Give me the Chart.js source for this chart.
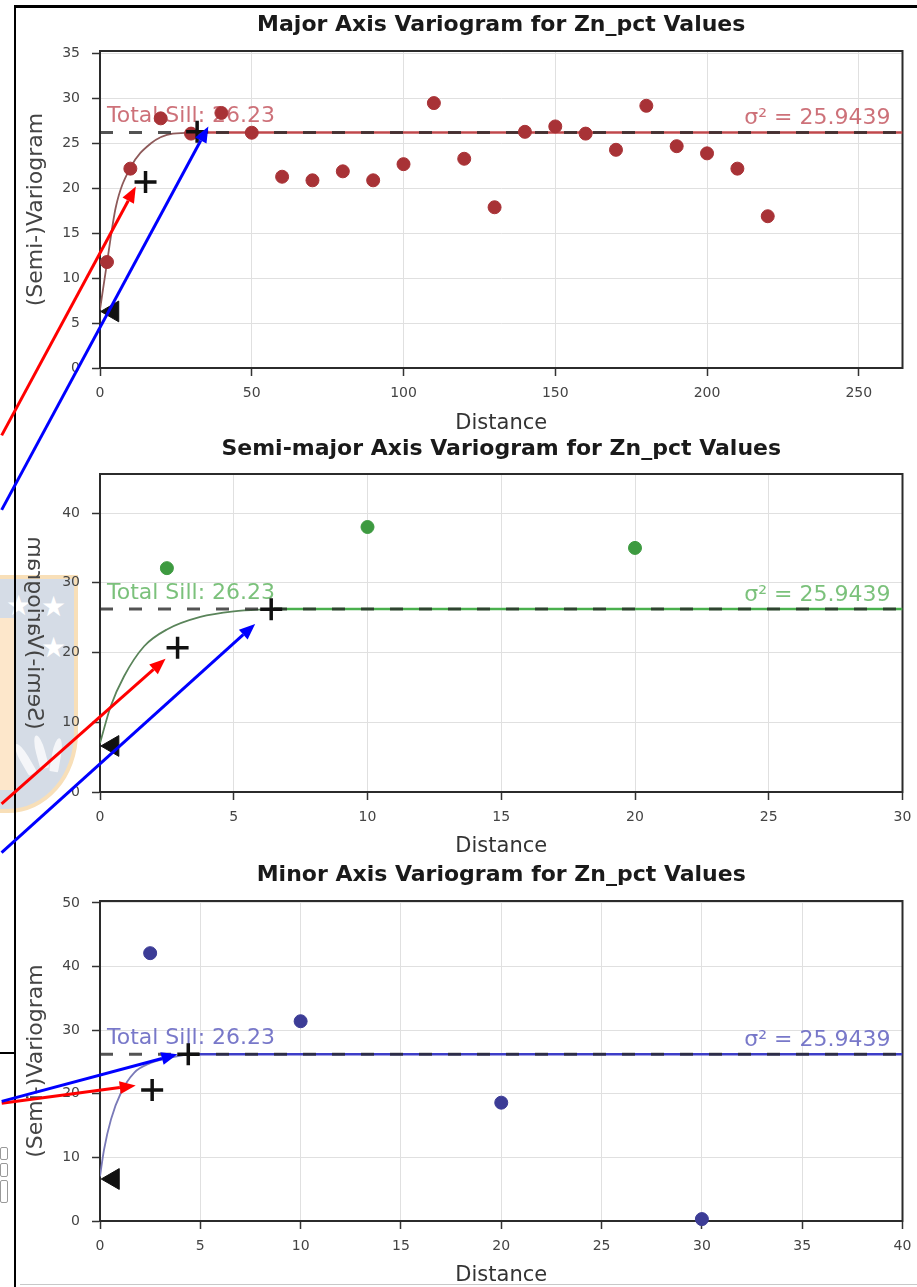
<!DOCTYPE html>
<html lang="en">
<head>
<meta charset="UTF-8">
<title>Zn_pct Variograms</title>
<script src="https://cdn.jsdelivr.net/npm/chart.js"></script>
<style>
  html, body { margin: 0; padding: 0; background: #fff; }
  #page { position: relative; width: 917px; height: 1287px; overflow: hidden; background: #fff; }
  #page canvas { position: absolute; left: 0; top: 0; }
  .rule { position: absolute; background: #000; }
  .crest { position: absolute; left: -42px; top: 575px; width: 112px; height: 230px;
           background: #d5dce6; border: 4px solid #f8dfb8; border-radius: 0 0 70px 40px / 0 0 80px 70px; }
  .crest-gold { position: absolute; left: 0; top: 618px; width: 15px; height: 172px; background: #fde7cb; }
  .star { position: absolute; color: #fff; font: 28px "DejaVu Sans"; line-height: 1; }
  .tooth { position: absolute; width: 9px; height: 34px; background: #fff; opacity: .75; border-radius: 50% 50% 10% 10%; }
  .icon { position: absolute; left: 0; width: 6px; border: 1px solid #999; border-radius: 2px; }
</style>
</head>
<body>
<div id="page">
  <div class="crest"></div>
  <div class="crest-gold"></div>
  <span class="star" style="left:6px;top:592px">★</span>
  <span class="star" style="left:41px;top:593px">★</span>
  <span class="star" style="left:41px;top:634px">★</span>
  <div class="tooth" style="left:20px;top:742px;transform:rotate(-30deg)"></div>
  <div class="tooth" style="left:36px;top:735px;transform:rotate(-15deg)"></div>
  <div class="tooth" style="left:52px;top:738px;transform:rotate(10deg)"></div>

  <div class="rule" style="left:14px;top:5px;width:903px;height:2.5px"></div>
  <div class="rule" style="left:14px;top:5px;width:2px;height:1282px"></div>
  <div class="rule" style="left:0;top:1052px;width:16px;height:1.5px"></div>
  <div class="rule" style="left:20px;top:1284px;width:897px;height:1px;background:#c8c8c8"></div>
  <div class="icon" style="top:1147px;height:11px"></div>
  <div class="icon" style="top:1163px;height:12px"></div>
  <div class="icon" style="top:1180px;height:21px"></div>

  <canvas id="majorChart" width="917" height="1287"></canvas>
  <canvas id="semiChart" width="917" height="1287"></canvas>
  <canvas id="minorChart" width="917" height="1287"></canvas>
</div>

<script>
  // shared sill values
  const totalSill = 26.23;
  const sigma2 = 25.9439;

  // major axis
  const majorLags = [2.3, 10, 20, 30, 40, 50, 60, 70, 80, 90, 100, 110, 120, 130, 140, 150, 160, 170, 180, 190, 200, 210, 220];
  const majorGamma = [11.8, 22.2, 27.8, 26.1, 28.4, 26.2, 21.3, 20.9, 21.9, 20.9, 22.7, 29.5, 23.3, 17.9, 26.3, 26.9, 26.1, 24.3, 29.2, 24.7, 23.9, 22.2, 16.9];
  const majorModelLags = [0, 2.3, 5.2, 10, 16.7, 24, 32];
  const majorModelGamma = [6.5, 11.7, 17.9, 22.3, 25.0, 26.1, 26.23];
  const majorRange = 32;
  const majorPlusLags = [15, 32];
  const majorPlusGamma = [20.7, 26.3];
  const majorNugget = [4.2, 6.3];
  const majorXTicks = [0, 50, 100, 150, 200, 250];
  const majorYTicks = [0, 5, 10, 15, 20, 25, 30, 35];
  const majorXMax = 264.4;
  const majorYMax = 35.3;
  const majorArrows = [
    { from: [-32.4, -7.5], to: [11.8, 20.2], color: '#ff0000' },
    { from: [-32.4, -15.8], to: [35.7, 26.9], color: '#0000ff' }
  ];

  // semi-major axis
  const semiLags = [2.5, 10, 20];
  const semiGamma = [32.1, 38.0, 35.0];
  const semiModelLags = [0, 0.4, 0.9, 1.65, 2.5, 3.75, 5, 6.4];
  const semiModelGamma = [7.0, 12.3, 16.6, 20.9, 23.3, 25.1, 25.9, 26.23];
  const semiRange = 6.4;
  const semiPlusLags = [2.9, 6.4];
  const semiPlusGamma = [20.7, 26.2];
  const semiNugget = [0.48, 6.6];
  const semiXTicks = [0, 5, 10, 15, 20, 25, 30];
  const semiYTicks = [0, 10, 20, 30, 40];
  const semiXMax = 30;
  const semiYMax = 45.6;
  const semiArrows = [
    { from: [-3.68, -1.7], to: [2.45, 19.1], color: '#ff0000' },
    { from: [-3.68, -8.7], to: [5.8, 24.1], color: '#0000ff' }
  ];

  // minor axis
  const minorLags = [2.5, 10, 20, 30];
  const minorGamma = [42.1, 31.4, 18.6, 0.3];
  const minorModelLags = [0, 0.2, 0.55, 1.05, 1.7, 2.5, 3.7, 4.4];
  const minorModelGamma = [7.0, 11.2, 16.0, 20.2, 23.3, 24.8, 25.8, 26.23];
  const minorRange = 4.4;
  const minorPlusLags = [2.6, 4.4];
  const minorPlusGamma = [20.6, 26.2];
  const minorNugget = [0.66, 6.6];
  const minorXTicks = [0, 5, 10, 15, 20, 25, 30, 35, 40];
  const minorYTicks = [0, 10, 20, 30, 40, 50];
  const minorXMax = 40;
  const minorYMax = 50.3;
  const minorArrows = [
    { from: [-4.9, 18.5], to: [1.78, 21.3], color: '#ff0000' },
    { from: [-4.9, 18.8], to: [3.86, 26.2], color: '#0000ff' }
  ];

  const FONT = '"DejaVu Sans", "Liberation Sans", sans-serif';

  function seriesXY(xs, ys) {
    return xs.map((x, i) => ({ x: x, y: ys[i] }));
  }

  // top and right edges of the axes box
  const framePlugin = {
    id: 'frame',
    beforeDatasetsDraw(chart) {
      const { ctx, chartArea: a } = chart;
      ctx.save();
      ctx.strokeStyle = '#2b2b2b';
      ctx.lineWidth = 2;
      ctx.strokeRect(a.left, a.top, a.right - a.left, a.bottom - a.top);
      ctx.restore();
    }
  };

  function sillTextPlugin(p) {
    return {
      id: 'sillText',
      beforeDatasetsDraw(chart) {
        const { ctx, chartArea: a, scales: { y } } = chart;
        const base = y.getPixelForValue(totalSill) - 10;
        ctx.save();
        ctx.font = '22px ' + FONT;
        ctx.fillStyle = p.textColor;
        ctx.textBaseline = 'alphabetic';
        ctx.textAlign = 'left';
        ctx.fillText('Total Sill: ' + totalSill.toFixed(2), a.left + 7, base);
        ctx.textAlign = 'right';
        ctx.fillText('σ² = ' + sigma2, a.right - 12, base + 2);
        ctx.restore();
      }
    };
  }

  // mirrored axis label on the middle panel
  function flippedTitlePlugin(p) {
    return {
      id: 'flippedTitle',
      afterDraw(chart) {
        if (!p.flipTitle) return;
        const { ctx, chartArea: a } = chart;
        ctx.save();
        ctx.translate(34, (a.top + a.bottom) / 2);
        ctx.scale(-1, 1);
        ctx.rotate(-Math.PI / 2);
        ctx.font = '22px ' + FONT;
        ctx.fillStyle = '#444';
        ctx.textAlign = 'center';
        ctx.textBaseline = 'middle';
        ctx.fillText('(Semi-)Variogram', 0, 0);
        ctx.restore();
      }
    };
  }

  function arrowPlugin(p) {
    return {
      id: 'arrows',
      afterDraw(chart) {
        const { ctx, scales: { x, y } } = chart;
        p.arrows.forEach(a => {
          const x0 = x.getPixelForValue(a.from[0]), y0 = y.getPixelForValue(a.from[1]);
          const x1 = x.getPixelForValue(a.to[0]), y1 = y.getPixelForValue(a.to[1]);
          const ang = Math.atan2(y1 - y0, x1 - x0);
          const head = 16, half = 6.5;
          const bx = x1 - head * Math.cos(ang), by = y1 - head * Math.sin(ang);
          ctx.save();
          ctx.strokeStyle = a.color;
          ctx.fillStyle = a.color;
          ctx.lineWidth = 3;
          ctx.beginPath();
          ctx.moveTo(x0, y0);
          ctx.lineTo(bx, by);
          ctx.stroke();
          ctx.beginPath();
          ctx.moveTo(x1, y1);
          ctx.lineTo(bx + half * Math.sin(ang), by - half * Math.cos(ang));
          ctx.lineTo(bx - half * Math.sin(ang), by + half * Math.cos(ang));
          ctx.closePath();
          ctx.fill();
          ctx.restore();
        });
      }
    };
  }

  function buildChart(canvasId, p) {
    return new Chart(document.getElementById(canvasId), {
      type: 'scatter',
      data: {
        datasets: [
          { data: p.plus, pointStyle: 'cross', pointRadius: 11, borderColor: '#111', borderWidth: 3.5, order: 0, clip: false },
          { data: [p.nugget], pointStyle: 'triangle', rotation: -90, pointRadius: 12, backgroundColor: '#111', borderColor: '#111', borderWidth: 1, order: 0, clip: false },
          { data: p.points, pointRadius: 6.5, backgroundColor: p.pointColor, borderColor: p.pointColor, borderWidth: 1, order: 1, clip: false },
          { data: [{ x: 0, y: totalSill }, { x: p.xMax, y: totalSill }], showLine: true, pointRadius: 0,
            borderColor: 'rgba(40,40,40,0.8)', borderWidth: 3, borderDash: [13, 16], order: 2 },
          { data: p.model, showLine: true, pointRadius: 0, borderColor: p.curveColor, borderWidth: 1.8,
            cubicInterpolationMode: 'monotone', order: 3 },
          { data: [{ x: p.range, y: totalSill }, { x: p.xMax, y: totalSill }], showLine: true, pointRadius: 0,
            borderColor: p.lineColor, borderWidth: 2.5, order: 4 }
        ]
      },
      options: {
        responsive: false,
        animation: false,
        events: [],
        layout: { padding: { top: p.top, bottom: 1287 - p.axisBottom, left: 0, right: 10 } },
        plugins: {
          legend: { display: false },
          tooltip: { enabled: false },
          title: {
            display: true,
            text: p.title,
            fullSize: false,
            color: '#1a1a1a',
            font: { family: FONT, size: 22, weight: 'bold', lineHeight: 1.2 },
            padding: p.titlePad
          }
        },
        scales: {
          x: {
            type: 'linear',
            min: 0,
            max: p.xMax,
            afterFit: s => { s.height = p.axisBottom - p.plotBottom; s.paddingLeft = 0; s.paddingRight = 0; },
            afterBuildTicks: s => { s.ticks = p.xTicks.map(v => ({ value: v })); },
            grid: { color: '#e0e0e0', lineWidth: 1, tickColor: '#333', tickLength: 8, tickWidth: 1.5 },
            border: { display: true, color: '#2b2b2b', width: 2 },
            ticks: { color: '#444', padding: 9, font: { family: FONT, size: 14 } },
            title: { display: true, text: 'Distance', color: '#333', padding: { bottom: p.xTitlePad },
                     font: { family: FONT, size: 21, lineHeight: 1 } }
          },
          y: {
            type: 'linear',
            min: 0,
            max: p.yMax,
            afterFit: s => { s.width = 100; },
            afterBuildTicks: s => { s.ticks = p.yTicks.map(v => ({ value: v })); },
            grid: { color: '#e0e0e0', lineWidth: 1, tickColor: '#333', tickLength: 8, tickWidth: 1.5 },
            border: { display: true, color: '#2b2b2b', width: 2 },
            ticks: { color: '#444', padding: 12, font: { family: FONT, size: 14 } },
            title: { display: !p.flipTitle, text: '(Semi-)Variogram', color: '#444', padding: { top: 25 },
                     font: { family: FONT, size: 22, lineHeight: 1 } }
          }
        }
      },
      plugins: [framePlugin, sillTextPlugin(p), flippedTitlePlugin(p), arrowPlugin(p)]
    });
  }

  const majorChart = buildChart('majorChart', {
    title: 'Major Axis Variogram for Zn_pct Values',
    points: seriesXY(majorLags, majorGamma),
    model: seriesXY(majorModelLags, majorModelGamma),
    plus: seriesXY(majorPlusLags, majorPlusGamma),
    nugget: { x: majorNugget[0], y: majorNugget[1] },
    range: majorRange, xMax: majorXMax, yMax: majorYMax,
    xTicks: majorXTicks, yTicks: majorYTicks,
    arrows: majorArrows,
    pointColor: '#a83236', curveColor: '#8e5a5a', lineColor: '#c0494c', textColor: 'rgba(196,88,98,0.85)',
    top: 0, titlePad: { top: 11.8, bottom: 12.8 }, plotBottom: 368, axisBottom: 445, xTitlePad: 11
  });

  const semiChart = buildChart('semiChart', {
    title: 'Semi-major Axis Variogram for Zn_pct Values',
    points: seriesXY(semiLags, semiGamma),
    model: seriesXY(semiModelLags, semiModelGamma),
    plus: seriesXY(semiPlusLags, semiPlusGamma),
    nugget: { x: semiNugget[0], y: semiNugget[1] },
    range: semiRange, xMax: semiXMax, yMax: semiYMax,
    xTicks: semiXTicks, yTicks: semiYTicks,
    arrows: semiArrows, flipTitle: true,
    pointColor: '#3d9a40', curveColor: '#5a845a', lineColor: '#49b04d', textColor: 'rgba(100,182,100,0.85)',
    top: 430, titlePad: { top: 5.8, bottom: 11.8 }, plotBottom: 792, axisBottom: 870, xTitlePad: 12.5
  });

  const minorChart = buildChart('minorChart', {
    title: 'Minor Axis Variogram for Zn_pct Values',
    points: seriesXY(minorLags, minorGamma),
    model: seriesXY(minorModelLags, minorModelGamma),
    plus: seriesXY(minorPlusLags, minorPlusGamma),
    nugget: { x: minorNugget[0], y: minorNugget[1] },
    range: minorRange, xMax: minorXMax, yMax: minorYMax,
    xTicks: minorXTicks, yTicks: minorYTicks,
    arrows: minorArrows,
    pointColor: '#3c3c96', curveColor: '#7a7ab8', lineColor: '#3e3ec8', textColor: 'rgba(96,96,192,0.85)',
    top: 855, titlePad: { top: 7.3, bottom: 12.3 }, plotBottom: 1221, axisBottom: 1287, xTitlePad: 0.5
  });
</script>
</body>
</html>
